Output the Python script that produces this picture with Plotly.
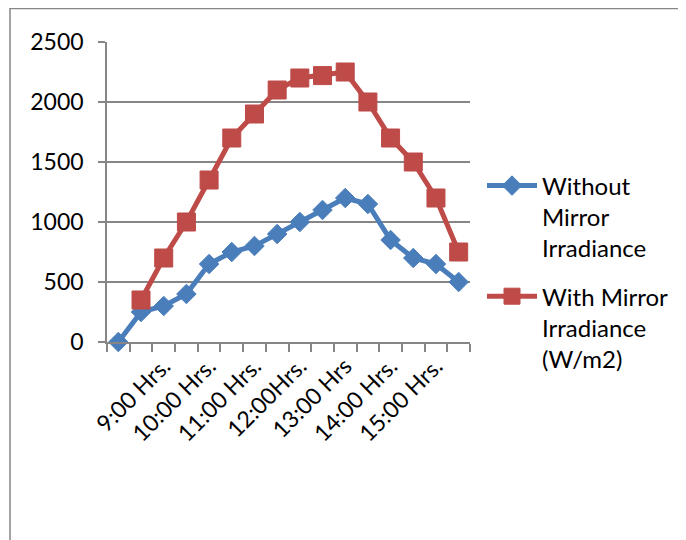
import plotly.graph_objects as go

# ---- data ----
category_index = list(range(16))          # 16 half-hour slots
without_mirror = [0, 250, 300, 400, 650, 750, 800, 900, 1000, 1100, 1200, 1150, 850, 700, 650, 500]
with_mirror = [None, 350, 700, 1000, 1350, 1700, 1900, 2100, 2200, 2220, 2250, 2000, 1700, 1500, 1200, 750]
tick_positions = [2, 4, 6, 8, 10, 12, 14]
tick_labels = ["9:00 Hrs.", "10:00 Hrs.", "11:00 Hrs.", "12:00Hrs.", "13:00 Hrs", "14:00 Hrs.", "15:00 Hrs."]
series_names = ["Without<br>Mirror<br>Irradiance", "With Mirror<br>Irradiance<br>(W/m2)"]

BLUE = "#4A7EBB"
RED = "#BE4B48"
GRAY = "#868686"
FONT = "Lato"

ML, MR, MT, MB = 99, 224, 34, 206
PW = 686 - ML - MR
PH = 540 - MT - MB

fig = go.Figure()
fig.add_trace(go.Scatter(
    x=category_index, y=without_mirror, name=series_names[0], mode="lines+markers",
    line=dict(color=BLUE, width=5),
    marker=dict(symbol="diamond", size=15, color=BLUE, line=dict(color=BLUE, width=1)),
    legendgroup="a", cliponaxis=False,
))
fig.add_trace(go.Scatter(
    x=category_index, y=with_mirror, name=series_names[1], mode="lines+markers",
    line=dict(color=RED, width=5),
    marker=dict(symbol="square", size=18, color=RED, line=dict(color=RED, width=1)),
    legendgroup="b", cliponaxis=False,
))

fig.update_layout(
    width=686, height=540,
    margin=dict(l=ML, r=MR, t=MT, b=MB),
    paper_bgcolor="white", plot_bgcolor="white",
    font=dict(family=FONT, size=23, color="black"),
    showlegend=True,
    legend=dict(x=(474 - ML) / PW, y=0.595, xanchor="left", yanchor="top", valign="top",
                font=dict(family=FONT, size=24, color="black"),
                tracegroupgap=14, itemwidth=50, bgcolor="rgba(0,0,0,0)"),
    shapes=[dict(type="rect", xref="paper", yref="paper",
                 x0=(2 - ML) / PW, x1=2.0, y0=-2.0, y1=1 + (MT - 0.5) / PH,
                 line=dict(color=GRAY, width=1.5), layer="below")],
)
fig.update_xaxes(
    range=[-0.5, 15.5], tickmode="array", tickvals=tick_positions, ticktext=tick_labels,
    tickangle=-45, ticks="", showgrid=False, zeroline=False,
    showline=True, linecolor=GRAY, linewidth=1.5,
    minor=dict(tickmode="linear", tick0=-0.5, dtick=1, ticks="outside", ticklen=8,
               tickcolor=GRAY, tickwidth=1.5, showgrid=False),
    tickfont=dict(family=FONT, size=23, color="black"),
)
fig.update_yaxes(
    range=[0, 2500], tickmode="linear", tick0=0, dtick=500,
    ticks="outside", ticklen=7, tickcolor=GRAY, tickwidth=1.5,
    showgrid=True, gridcolor=GRAY, gridwidth=1.5, zeroline=False,
    showline=True, linecolor=GRAY, linewidth=1.5,
    ticklabelstandoff=10,
    tickfont=dict(family=FONT, size=23, color="black"),
)

fig.write_html("out.html")
